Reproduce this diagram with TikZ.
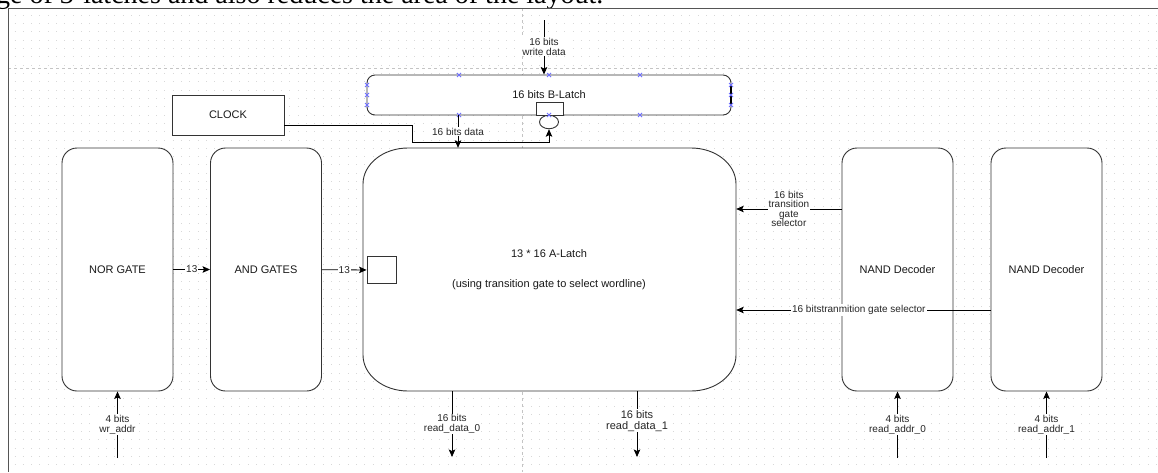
\documentclass[tikz,border=0pt]{standalone}
\usepackage{fontspec}
\setmainfont{Liberation Sans}
\newfontfamily\capserif{Liberation Serif}
\usetikzlibrary{arrows.meta,calc,shapes.geometric}
\definecolor{lineclr}{HTML}{333333}
\definecolor{gridclr}{HTML}{D8D8D8}
\definecolor{guideclr}{HTML}{C4C4C4}
\definecolor{markclr}{HTML}{6F6FFF}
\definecolor{frameclr}{HTML}{555555}
\tikzset{
  blk/.style={draw=lineclr, fill=white, line width=0.9pt, rounded corners=15pt,
    minimum width=111pt, minimum height=243pt, inner sep=0pt,
    font=\fontsize{11}{13}\selectfont, text=black!90},
  plainbox/.style={draw=lineclr, fill=white, line width=0.9pt, inner sep=0pt},
  conn/.style={draw=black, line width=0.8pt, -{Stealth[length=7.5pt,width=6.5pt,inset=1.5pt]}},
  lbl/.style={fill=white, inner sep=1pt, font=\fontsize{10}{9.5}\selectfont, align=center, text=black!85},
  lblbig/.style={fill=white, inner sep=1pt, font=\fontsize{11}{11}\selectfont, align=center, text=black!85},
  btxt/.style={inner sep=0pt, font=\fontsize{11}{13}\selectfont, text=black!90},
  griddot/.style={draw=gridclr, line width=1pt, dash pattern=on 1pt off 7.333pt},
  guide/.style={draw=guideclr, line width=0.6pt, dash pattern=on 3pt off 3pt},
  mk/.style={draw=markclr, line width=0.8pt}
}
\begin{document}
\begin{tikzpicture}[x=1pt,y=-1pt]
\useasboundingbox (0,0) rectangle (1158,472);
\fill[white] (0,0) rectangle (1158,472);
\begin{scope}
\clip (0,0) rectangle (1158,472);
% caption fragment
\node[anchor=base west, inner sep=0pt, font=\capserif\fontsize{28}{28}\selectfont] (cap) at (-4,3.5) {ge of 3-latches and also reduces the area of the layout.};
% grid dots
\foreach \r in {0,...,54} { \draw[griddot] (14.5,15+8.333*\r) -- (1158,15+8.333*\r); }
% guides
\draw[guide] (8,68) -- (1158,68);
\draw[guide] (522,8) -- (522,472);
% frame
\draw[draw=frameclr, line width=1pt] (1158,8) -- (8,8) -- (8,472);

% blocks
\node[blk] (nor) at (117.5,269.5) {NOR GATE};
\node[blk] (and) at (266,269.5) {AND GATES};
\node[blk] (nand0) at (897.5,269.5) {NAND Decoder};
\node[blk] (nand1) at (1046.5,269.5) {NAND Decoder};

% A-latch
\node[minimum width=373pt, minimum height=243pt, inner sep=0pt] (A) at (549.5,269.5) {};
\draw[draw=lineclr, fill=white, line width=0.9pt]
  (408,148) -- (691,148) arc[start angle=-90, end angle=0, x radius=45, y radius=36]
  -- (736,355) arc[start angle=0, end angle=90, x radius=45, y radius=36]
  -- (408,391) arc[start angle=90, end angle=180, x radius=45, y radius=36]
  -- (363,184) arc[start angle=180, end angle=270, x radius=45, y radius=36] -- cycle;
\node[btxt] (atitle) at (549,254) {13 * 16 A-Latch};
\node[btxt] (asub) at (549,285) {(using transition gate to select wordline)};
\node[plainbox, minimum width=29pt, minimum height=27pt] (sq) at (381.5,270) {};

% B-latch
\node[plainbox, rounded corners=8pt, minimum width=364pt, minimum height=40pt, font=\fontsize{11}{13}\selectfont, text=black!90] (blatch) at (549,95) {16 bits B-Latch};
\draw[black, line width=1.3pt] (731,84) -- (731,106);
\node[plainbox, minimum width=27pt, minimum height=13pt] (bsq) at (549.5,108.5) {};
\node[draw=lineclr, fill=white, line width=0.9pt, ellipse, minimum width=19pt, minimum height=13.5pt, inner sep=0pt] (ell) at (549,122) {};
\foreach \mx/\my in {459/75,549/75,640/75,459/115,549/115,640/115,367/85,367/95,367/105,731/85,731/95,731/105}
  { \draw[mk] (\mx-2,\my-2) -- (\mx+2,\my+2) (\mx-2,\my+2) -- (\mx+2,\my-2); }

% clock
\node[plainbox, minimum width=112pt, minimum height=40pt, font=\fontsize{11}{13}\selectfont, text=black!90] (clock) at (228,115) {CLOCK};

% connectors
\draw[conn] (nor) -- node[lbl] {13} (and);
\draw[conn] (and) -- node[lbl] {13} (sq);

\coordinate (ck1) at (412,142);
\draw[conn] ([yshift=-10pt]clock.east) -| (ck1) -| (ell.south);

\coordinate (dtap) at (458,115);
\draw[conn] (blatch.south -| dtap) -- node[lbl] {16 bits data} (A.north -| dtap);

\coordinate (wdin) at (544,20);
\draw[conn] (wdin) -- node[lbl, pos=0.49] {16 bits\\write data} (wdin |- blatch.north);

\draw[conn] ([yshift=60.5pt]nand0.west) -- node[lbl] {16 bits\\transition\\gate\\selector} ([yshift=60.5pt]A.east);
\draw[conn] ([yshift=-40.5pt]nand1.west) -- node[lbl, pos=0.518] {16 bitstranmition gate selector} ([yshift=-40.5pt]A.east);

\coordinate (wrin) at (117.5,458);
\draw[conn] (wrin) -- node[lbl] {4 bits\\wr\_addr} (nor.south);
\coordinate (rd0) at (452,457);
\draw[conn] (A.south -| rd0) -- node[lbl] {16 bits\\read\_data\_0} (rd0);
\coordinate (rd1) at (637,457);
\draw[conn] (A.south -| rd1) -- node[lblbig, pos=0.447] {16 bits\\read\_data\_1} (rd1);
\coordinate (ra0) at (897.5,458);
\draw[conn] (ra0) -- node[lbl] {4 bits\\read\_addr\_0} (nand0.south);
\coordinate (ra1) at (1046.5,458);
\draw[conn] (ra1) -- node[lbl] {4 bits\\read\_addr\_1} (nand1.south);
\end{scope}
\end{tikzpicture}
\end{document}
